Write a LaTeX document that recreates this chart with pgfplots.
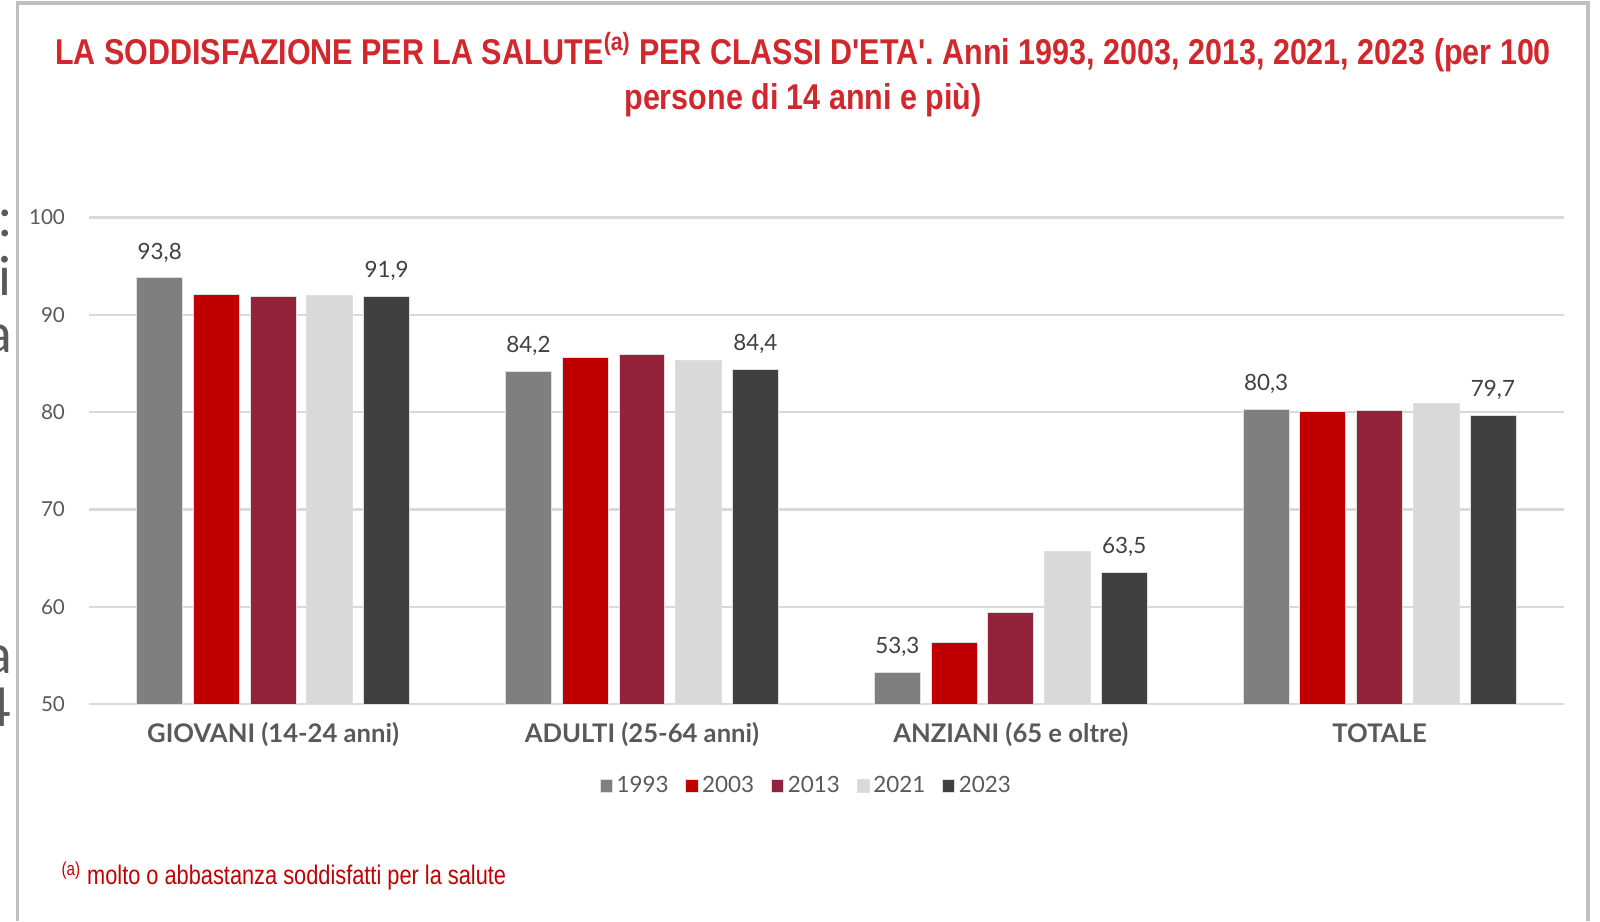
\documentclass[border=0pt]{standalone}
\usepackage{fontspec}
\setmainfont{Lato}
\newfontfamily\narrow[FakeStretch=0.85]{Liberation Sans}
\newfontfamily\narrowb[FakeStretch=0.81]{Liberation Sans}
\usepackage{pgfplots}
\pgfplotsset{compat=1.18}
\definecolor{c1993}{HTML}{7F7F7F}
\definecolor{c2003}{HTML}{C00000}
\definecolor{c2013}{HTML}{93223A}
\definecolor{c2021}{HTML}{D9D9D9}
\definecolor{c2023}{HTML}{404040}
\definecolor{titlered}{HTML}{D0282C}
\definecolor{txtgray}{HTML}{595959}
\definecolor{gridgray}{HTML}{D9D9D9}
\definecolor{framegray}{HTML}{BFBFBF}
\begin{document}
\begin{tikzpicture}[x=0.02cm,y=0.02cm]
\useasboundingbox (0,0) rectangle (1568,903);
\fill[white] (0,0) rectangle (1568,903);
\draw[framegray, line width=0.07cm] (17,0) -- (17,900) -- (1556,900) -- (1556,0);
\begin{scope}
\clip (0,0) rectangle (14,903);
\foreach \yy/\ch in {671/:,613/i,558/a,243/a,191/4}{
  \node[anchor=base east, inner sep=0, text=txtgray, font=\fontsize{30}{30}\selectfont] at (12,\yy) {\ch};
}
\end{scope}
\node[font=\narrow\bfseries\fontsize{20}{25}\selectfont, text=titlered, align=center, anchor=base] at (787,796)
  {LA SODDISFAZIONE PER LA SALUTE\textsuperscript{(a)} PER CLASSI D{\char"0027}ETA{\char"0027}. Anni 1993, 2003, 2013, 2021, 2023 (per 100\\persone di 14 anni e più)};
\node[anchor=base west, inner sep=0, font=\narrowb\fontsize{15}{18}\selectfont, text=c2003] at (60,36)
  {\textsuperscript{(a)} molto o abbastanza soddisfatti per la salute};
\begin{axis}[
  at={(1.74cm,4.26cm)}, anchor=south west,
  scale only axis, width=28.92cm, height=9.54cm,
  xmin=-0.5, xmax=3.5, ymin=50, ymax=100,
  ytick={50,60,...,100},
  xtick={0,1,2,3},
  xticklabels={GIOVANI (14-24 anni),ADULTI (25-64 anni),ANZIANI (65 e oltre),TOTALE},
  ymajorgrids, grid style={gridgray, line width=1.2pt},
  axis line style={draw=none},
  major tick length=0pt,
  xticklabel style={inner sep=0pt, anchor=north, yshift=-0.36cm, text height=11pt, font=\bfseries\fontsize{14.3}{16}\selectfont, text=txtgray},
  yticklabel style={inner sep=0pt, anchor=east, xshift=-0.46cm, font=\fontsize{11.5}{14}\selectfont, text=txtgray},
  /pgf/number format/assume math mode=true,
  ybar=0.212cm, bar width=0.9cm,
  nodes near coords style={anchor=south, inner sep=0pt, yshift=0.3cm, font=\fontsize{12.5}{15}\selectfont, text=c2023,
    /pgf/number format/.cd, use comma, fixed, fixed zerofill, precision=1},
  legend style={at={(0.487,-0.168)}, anchor=center, draw=none, fill=none, legend columns=5,
    font=\fontsize{12.5}{15}\selectfont, text=txtgray, inner sep=0pt,
    /tikz/every even column/.append style={column sep=0.26cm}},
  legend image code/.code={\fill[#1] (0cm,-0.12cm) rectangle (0.24cm,0.12cm);},
]
\addplot[fill=c1993, draw=gray!25, line width=0.5pt, nodes near coords] coordinates {(0,93.8) (1,84.2) (2,53.3) (3,80.3)};
\addplot[fill=c2003, draw=gray!25, line width=0.5pt] coordinates {(0,92.1) (1,85.6) (2,56.3) (3,80.1)};
\addplot[fill=c2013, draw=gray!25, line width=0.5pt] coordinates {(0,91.9) (1,85.9) (2,59.4) (3,80.2)};
\addplot[fill=c2021, draw=gray!25, line width=0.5pt] coordinates {(0,92.0) (1,85.3) (2,65.7) (3,80.9)};
\addplot[fill=c2023, draw=gray!25, line width=0.5pt, nodes near coords] coordinates {(0,91.9) (1,84.4) (2,63.5) (3,79.7)};
\legend{1993,2003,2013,2021,2023}
\end{axis}
\end{tikzpicture}
\end{document}
